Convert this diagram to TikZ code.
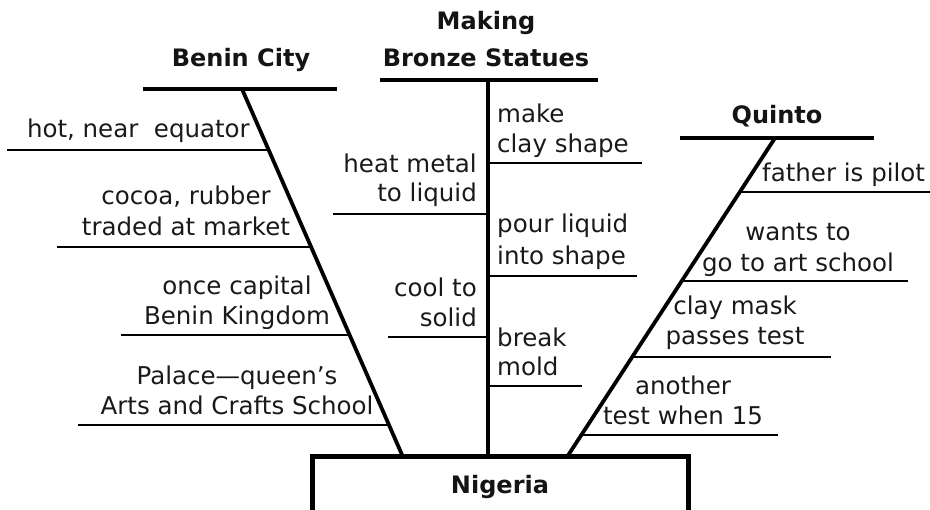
\documentclass[tikz,border=0pt]{standalone}
\usepackage{fontspec}
\setmainfont{DejaVu Sans}
\begin{document}
\begin{tikzpicture}[x=1pt,y=-1pt,
  lbl/.style={inner sep=0pt,font=\fontsize{24.5}{29}\selectfont,text=black!90},
  hdr/.style={inner sep=0pt,font=\fontsize{24}{29}\selectfont\bfseries,text=black!92},
  bar/.style={line width=4.2pt},
  spine/.style={line width=3.8pt},
  twig/.style={line width=2pt}]
\path[use as bounding box] (0,0) rectangle (930,510);
\clip (0,0) rectangle (930,510);
% ---- Nigeria box
\coordinate (nbL) at (312,457);
\coordinate (nbR) at (688,540);
\draw[line width=5pt] (nbL) rectangle (nbR);
\node[hdr,anchor=base] (nig) at (500,494) {Nigeria};
% ---- Benin City
\coordinate (bbarL) at (143,89);
\coordinate (bbarR) at (337,89);
\coordinate (bt) at (242,89);
\coordinate (bb) at (403,457);
\draw[bar] (bbarL) -- (bbarR);
\draw[spine] (bt) -- (bb);
\node[hdr,anchor=base] (benin) at (241,67) {Benin City};
\coordinate (b1L) at (7,150);   \coordinate (b1R) at (268.7,150);
\coordinate (b2L) at (57,247);  \coordinate (b2R) at (311.1,247);
\coordinate (b3L) at (121,335); \coordinate (b3R) at (349.6,335);
\coordinate (b4L) at (78,425);  \coordinate (b4R) at (389,425);
\draw[twig] (b1L) -- (b1R);
\draw[twig] (b2L) -- (b2R);
\draw[twig] (b3L) -- (b3R);
\draw[twig] (b4L) -- (b4R);
\node[lbl,anchor=base east] (t1) at (250,138) {hot, near\ \ equator};
\node[lbl,anchor=base] (t2a) at (186,205) {cocoa, rubber};
\node[lbl,anchor=base] (t2b) at (186,236) {traded at market};
\node[lbl,anchor=base] (t3a) at (237,295) {once capital};
\node[lbl,anchor=base] (t3b) at (237,325) {Benin Kingdom};
\node[lbl,anchor=base] (t4a) at (237,385) {Palace—queen’s};
\node[lbl,anchor=base] (t4b) at (237,415) {Arts and Crafts School};
% ---- Making Bronze Statues
\coordinate (mbarL) at (380,80);
\coordinate (mbarR) at (598,80);
\coordinate (mt) at (488,80);
\coordinate (mb) at (488,457);
\draw[bar] (mbarL) -- (mbarR);
\draw[spine] (mt) -- (mb);
\node[hdr,anchor=base] (mk1) at (486,30) {Making};
\node[hdr,anchor=base] (mk2) at (486,67) {Bronze Statues};
\coordinate (m1R) at (642,163); \coordinate (m1L) at (488,163);
\coordinate (m2L) at (333,214); \coordinate (m2R) at (488,214);
\coordinate (m3R) at (637,276); \coordinate (m3L) at (488,276);
\coordinate (m4L) at (388,337); \coordinate (m4R) at (488,337);
\coordinate (m5R) at (582,386); \coordinate (m5L) at (488,386);
\draw[twig] (m1L) -- (m1R);
\draw[twig] (m2L) -- (m2R);
\draw[twig] (m3L) -- (m3R);
\draw[twig] (m4L) -- (m4R);
\draw[twig] (m5L) -- (m5R);
\node[lbl,anchor=base west] (s1a) at (497,123) {make};
\node[lbl,anchor=base west] (s1b) at (497,153) {clay shape};
\node[lbl,anchor=base east] (s2a) at (477,173) {heat metal};
\node[lbl,anchor=base east] (s2b) at (477,202) {to liquid};
\node[lbl,anchor=base west] (s3a) at (497,233) {pour liquid};
\node[lbl,anchor=base west] (s3b) at (497,265) {into shape};
\node[lbl,anchor=base east] (s4a) at (477,297) {cool to};
\node[lbl,anchor=base east] (s4b) at (477,327) {solid};
\node[lbl,anchor=base west] (s5a) at (497,347) {break};
\node[lbl,anchor=base west] (s5b) at (497,376) {mold};
% ---- Quinto
\coordinate (qbarL) at (680,138);
\coordinate (qbarR) at (874,138);
\coordinate (qt) at (775,138);
\coordinate (qb) at (567,457);
\draw[bar] (qbarL) -- (qbarR);
\draw[spine] (qt) -- (qb);
\node[hdr,anchor=base] (quinto) at (777,124) {Quinto};
\coordinate (q1L) at (739.8,192); \coordinate (q1R) at (930,192);
\coordinate (q2L) at (681.8,281); \coordinate (q2R) at (908,281);
\coordinate (q3L) at (632.2,357); \coordinate (q3R) at (831,357);
\coordinate (q4L) at (581.4,435); \coordinate (q4R) at (778,435);
\draw[twig] (q1L) -- (q1R);
\draw[twig] (q2L) -- (q2R);
\draw[twig] (q3L) -- (q3R);
\draw[twig] (q4L) -- (q4R);
\node[lbl,anchor=base west] (u1) at (762,182) {father is pilot};
\node[lbl,anchor=base] (u2a) at (798,241) {wants to};
\node[lbl,anchor=base] (u2b) at (798,272) {go to art school};
\node[lbl,anchor=base] (u3a) at (735,315) {clay mask};
\node[lbl,anchor=base] (u3b) at (735,345) {passes test};
\node[lbl,anchor=base] (u4a) at (683,395) {another};
\node[lbl,anchor=base] (u4b) at (683,425) {test when 15};
\end{tikzpicture}
\end{document}
